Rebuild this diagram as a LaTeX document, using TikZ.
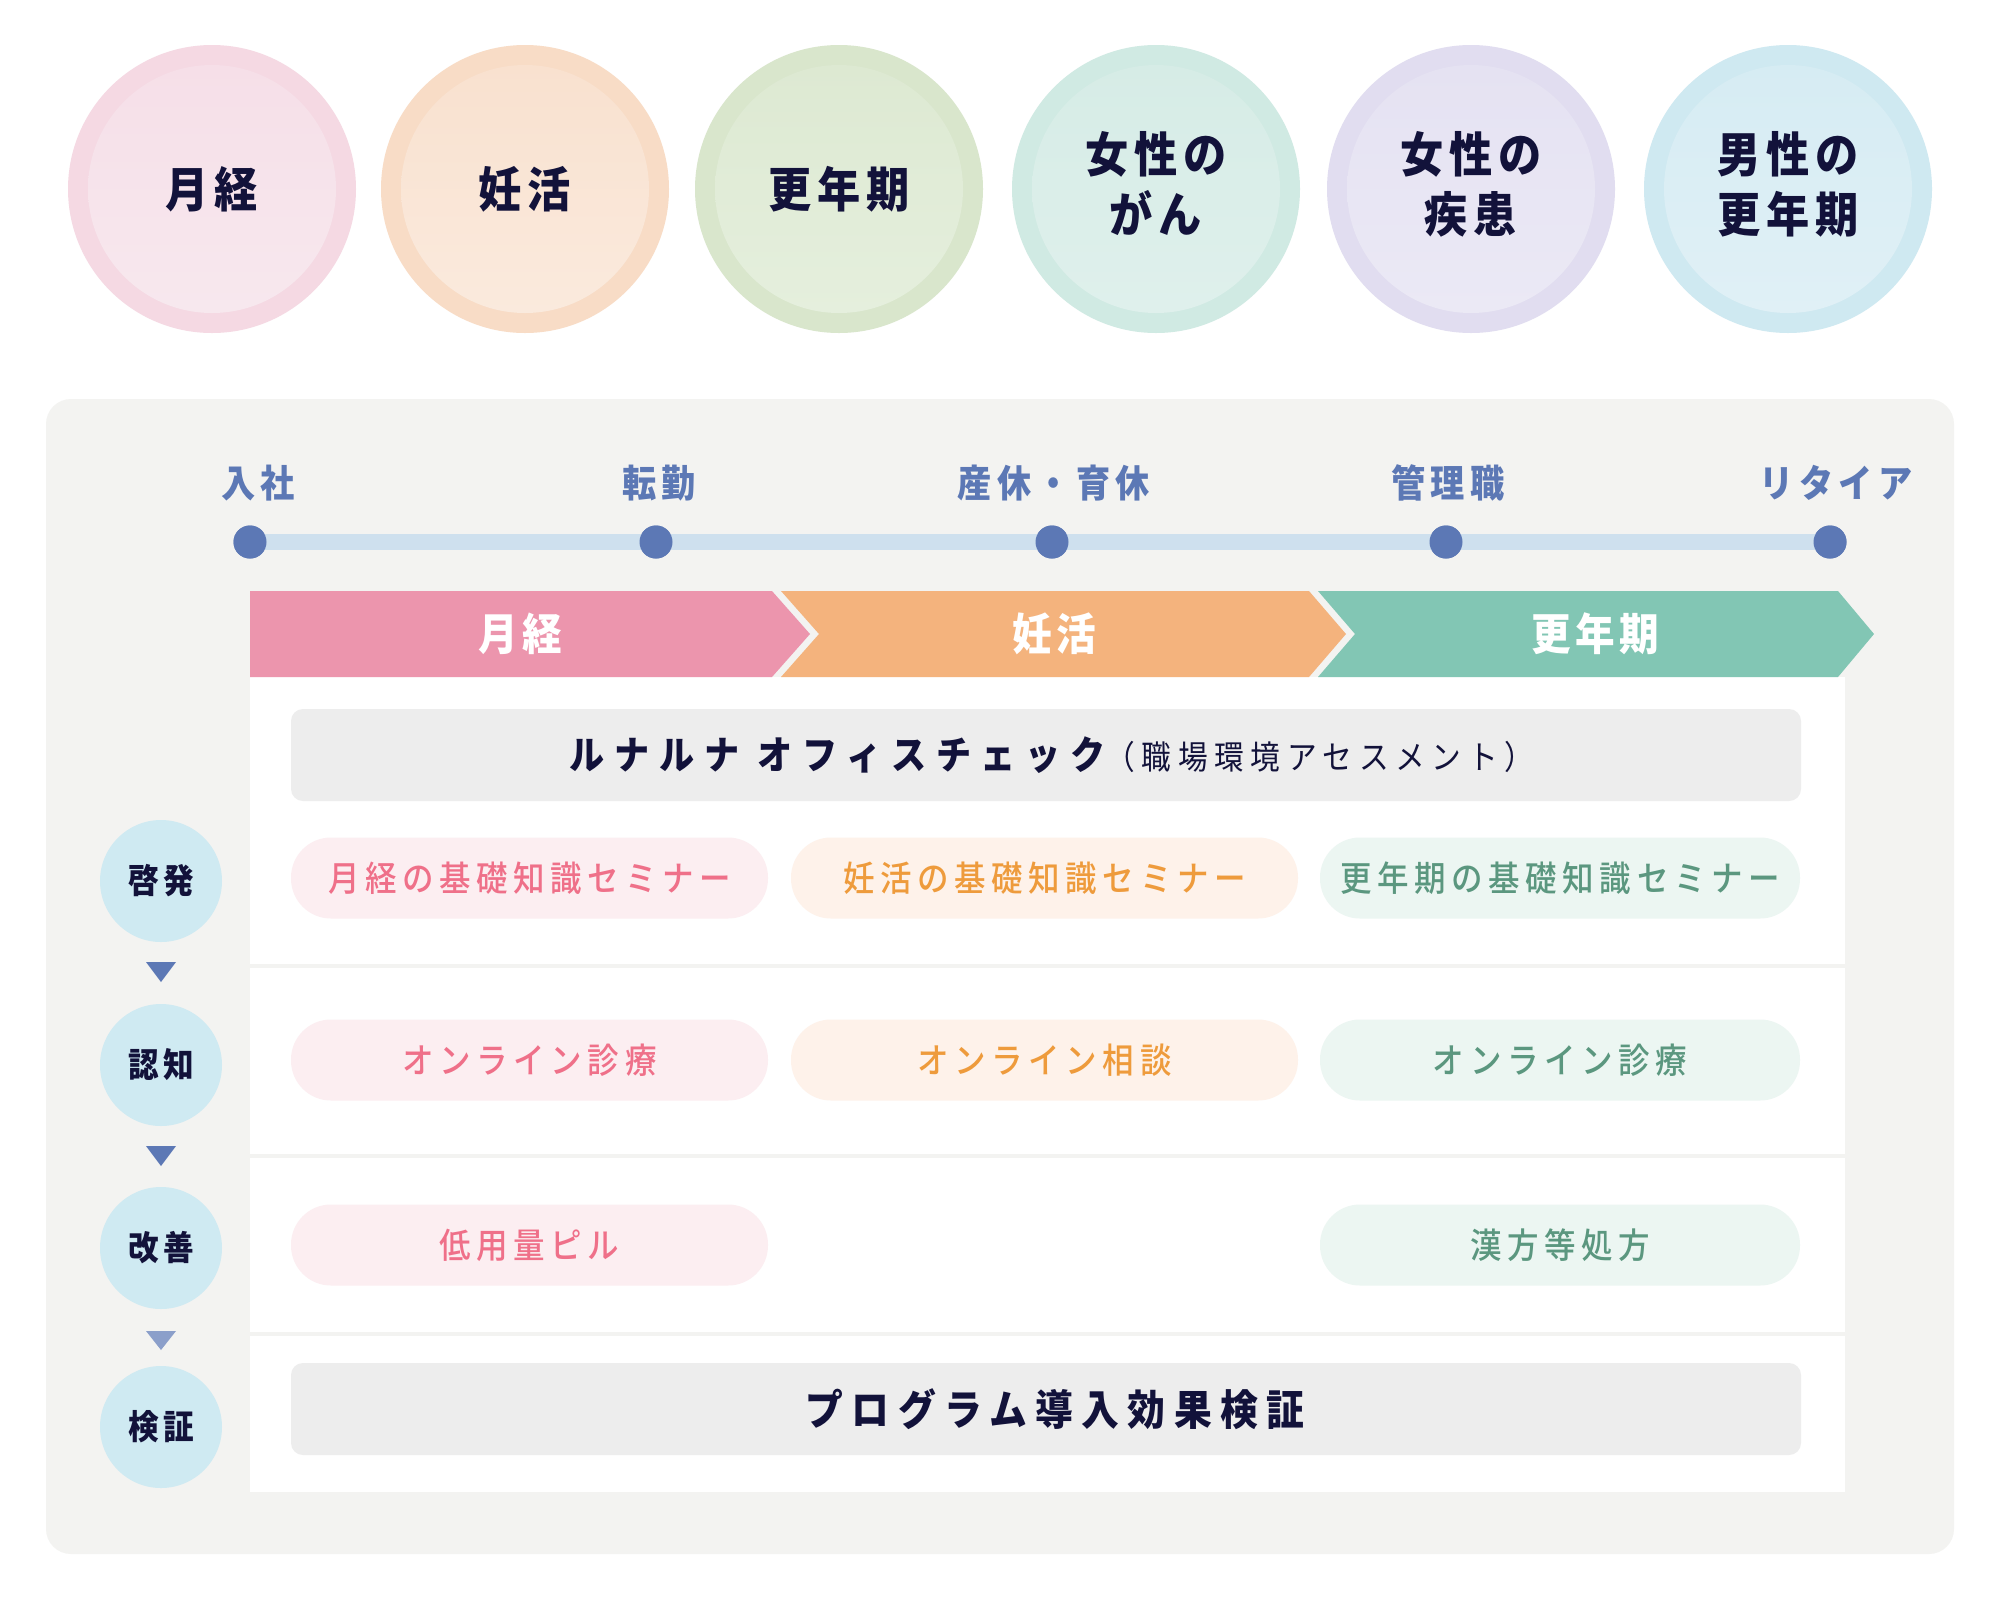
\documentclass[tikz,border=0pt]{standalone}
\usepackage{fontspec}
\setmainfont{Noto Sans CJK JP}[FakeStretch=0.9]
\newfontfamily\jpmed{Noto Sans CJK JP Medium}[FakeStretch=0.9]
\usetikzlibrary{calc}
\definecolor{navy}{HTML}{12123A}
\definecolor{panelbg}{HTML}{F3F3F1}
\definecolor{tline}{HTML}{CEE0EE}
\definecolor{tdot}{HTML}{5C78B5}
\definecolor{tri3}{HTML}{8B9FCA}
\definecolor{chpink}{HTML}{EC95AD}
\definecolor{chorange}{HTML}{F4B37D}
\definecolor{chgreen}{HTML}{82C6B4}
\definecolor{boxgray}{HTML}{EDEDED}
\definecolor{pkfill}{HTML}{FCEEF1}
\definecolor{pktext}{HTML}{EF7089}
\definecolor{orfill}{HTML}{FEF2EA}
\definecolor{ortext}{HTML}{EE9B3C}
\definecolor{grfill}{HTML}{ECF6F2}
\definecolor{grtext}{HTML}{5B977F}
\definecolor{stepc}{HTML}{CFEAF2}
\definecolor{oA}{HTML}{F5D9E3}\definecolor{iA1}{HTML}{F6DFE8}\definecolor{iA2}{HTML}{F7E8EE}
\definecolor{oB}{HTML}{F8DCC6}\definecolor{iB1}{HTML}{F9E1CF}\definecolor{iB2}{HTML}{FAEADD}
\definecolor{oC}{HTML}{D9E6CC}\definecolor{iC1}{HTML}{DDE9D2}\definecolor{iC2}{HTML}{E5EFDD}
\definecolor{oD}{HTML}{D0EAE3}\definecolor{iD1}{HTML}{D6ECE6}\definecolor{iD2}{HTML}{DFF0EC}
\definecolor{oE}{HTML}{E1DDF0}\definecolor{iE1}{HTML}{E5E2F2}\definecolor{iE2}{HTML}{EBE9F5}
\definecolor{oF}{HTML}{CFE9F1}\definecolor{iF1}{HTML}{D6ECF3}\definecolor{iF2}{HTML}{E0F0F6}
\newcommand\trk[1]{\addfontfeature{LetterSpace=#1}}
\tikzset{
  topouter/.style={circle, minimum size=288pt, inner sep=0pt},
  topinner/.style={circle, minimum size=248pt, inner sep=0pt, align=center,
    text=navy, font=\bfseries\fontsize{48}{60}\selectfont\trk{12}},
  tlabel/.style={text=tdot, font=\bfseries\fontsize{38}{40}\selectfont\trk{14}},
  tdotst/.style={circle, fill=tdot, minimum size=33pt, inner sep=0pt},
  chevtext/.style={text=white, font=\bfseries\fontsize{44}{48}\selectfont\trk{10}},
  graybox/.style={rectangle, rounded corners=12pt, fill=boxgray, minimum width=1510pt, minimum height=92pt, text=navy},
  boxtext/.style={text=navy, inner sep=0pt},
  pill/.style={rectangle, rounded corners=40pt, minimum height=81pt, inner sep=0pt, font=\jpmed\fontsize{35}{38}\selectfont\trk{16}},
  pk/.style={pill, fill=pkfill, text=pktext},
  orp/.style={pill, fill=orfill, text=ortext},
  grp/.style={pill, fill=grfill, text=grtext},
  stepcirc/.style={circle, fill=stepc, minimum size=122pt, inner sep=0pt, text=navy, font=\bfseries\fontsize{34}{36}\selectfont\trk{12}},
}
\begin{document}
\begin{tikzpicture}[x=1pt,y=-1pt]
\useasboundingbox (0,0) rectangle (2000,1596);
\fill[white] (0,0) rectangle (2000,1596);
% top circles
\foreach \n/\x/\o in {A/212/oA, B/525/oB, C/839/oC, D/1156/oD, E/1471/oE, F/1788/oF}{
  \node[topouter, fill=\o] (o\n) at (\x,189) {};
}
\node[topinner, top color=iA1, bottom color=iA2] (iA) at (oA) {月経};
\node[topinner, top color=iB1, bottom color=iB2] (iB) at (oB) {妊活};
\node[topinner, top color=iC1, bottom color=iC2] (iC) at (oC) {更年期};
\node[topinner, top color=iD1, bottom color=iD2] (iD) at (oD) {};
\node[topinner, top color=iE1, bottom color=iE2] (iE) at (oE) {};
\node[topinner, top color=iF1, bottom color=iF2] (iF) at (oF) {};
\node[topinner, minimum size=0pt] (tD) at ($(oD)+(0,-5)$) {女性の\\がん};
\node[topinner, minimum size=0pt] (tE) at ($(oE)+(0,-5)$) {女性の\\疾患};
\node[topinner, minimum size=0pt] (tF) at ($(oF)+(0,-5)$) {男性の\\更年期};
% panel
\fill[panelbg, rounded corners=25pt] (46,399) rectangle (1954,1554);
\fill[white] (250,677) rectangle (1845,1492);
\fill[panelbg] (250,964) rectangle (1845,968);
\fill[panelbg] (250,1154) rectangle (1845,1158);
\fill[panelbg] (250,1332) rectangle (1845,1336);
% timeline
\node[tdotst] (d1) at (250,542) {};
\node[tdotst] (d2) at (656,542) {};
\node[tdotst] (d3) at (1052,542) {};
\node[tdotst] (d4) at (1446,542) {};
\node[tdotst] (d5) at (1830,542) {};
\draw[tline, line width=16pt] (d1.center) -- (d5.center);
\foreach \i in {1,...,5}{\fill[tdot] (d\i) circle[radius=16.5pt];}
\node[tlabel] (l1) at (258,483) {入社};
\node[tlabel] (l2) at (659,483) {転勤};
\node[tlabel] (l3) at (1054,483) {産休・育休};
\node[tlabel] (l4) at (1448,483) {管理職};
\node[tlabel] (l5) at (1836,483) {リタイア};
% chevrons
\fill[chpink] (250,591) -- (772,591) -- (810,634) -- (772,677) -- (250,677) -- cycle;
\fill[chorange] (781,591) -- (1309,591) -- (1346,634) -- (1309,677) -- (781,677) -- (819,634) -- cycle;
\fill[chgreen] (1318,591) -- (1838,591) -- (1874,634) -- (1838,677) -- (1318,677) -- (1355,634) -- cycle;
\node[chevtext] (h1) at (520,634) {月経};
\node[chevtext] (h2) at (1054,634) {妊活};
\node[chevtext] (h3) at (1595,634) {更年期};
% boxes
\node[graybox] (b1) at (1046,755) {};
\node[boxtext] (b1t) at (1052,755) {{\bfseries\fontsize{39}{42}\selectfont\trk{25}ルナルナ オフィスチェック}{\fontsize{33}{36}\selectfont\trk{20}（職場環境アセスメント）}};
\node[graybox] (b2) at (1046,1409) {};
\node[boxtext] (b2t) at (1055,1409) {\bfseries\fontsize{42}{46}\selectfont\trk{20}プログラム導入効果検証};
% pills
\node[pk, minimum width=477pt] (p11) at (529.5,878) {月経の基礎知識セミナー};
\node[orp, minimum width=507pt] (p12) at (1044.5,878) {妊活の基礎知識セミナー};
\node[grp, minimum width=480pt] (p13) at (1560,878) {更年期の基礎知識セミナー};
\node[pk, minimum width=477pt] (p21) at (529.5,1060) {オンライン診療};
\node[orp, minimum width=507pt] (p22) at (1044.5,1060) {オンライン相談};
\node[grp, minimum width=480pt] (p23) at (1560,1060) {オンライン診療};
\node[pk, minimum width=477pt] (p31) at (529.5,1245) {低用量ピル};
\node[grp, minimum width=480pt] (p33) at (1560,1245) {漢方等処方};
% steps
\node[stepcirc] (s1) at (161,881) {啓発};
\node[stepcirc] (s2) at (161,1065) {認知};
\node[stepcirc] (s3) at (161,1248) {改善};
\node[stepcirc] (s4) at (161,1427) {検証};
\fill[tdot] (146,962) -- (176,962) -- (161,982) -- cycle;
\fill[tdot] (146,1146) -- (176,1146) -- (161,1166) -- cycle;
\fill[tri3] (146,1331) -- (176,1331) -- (161,1350) -- cycle;
\end{tikzpicture}
\end{document}
